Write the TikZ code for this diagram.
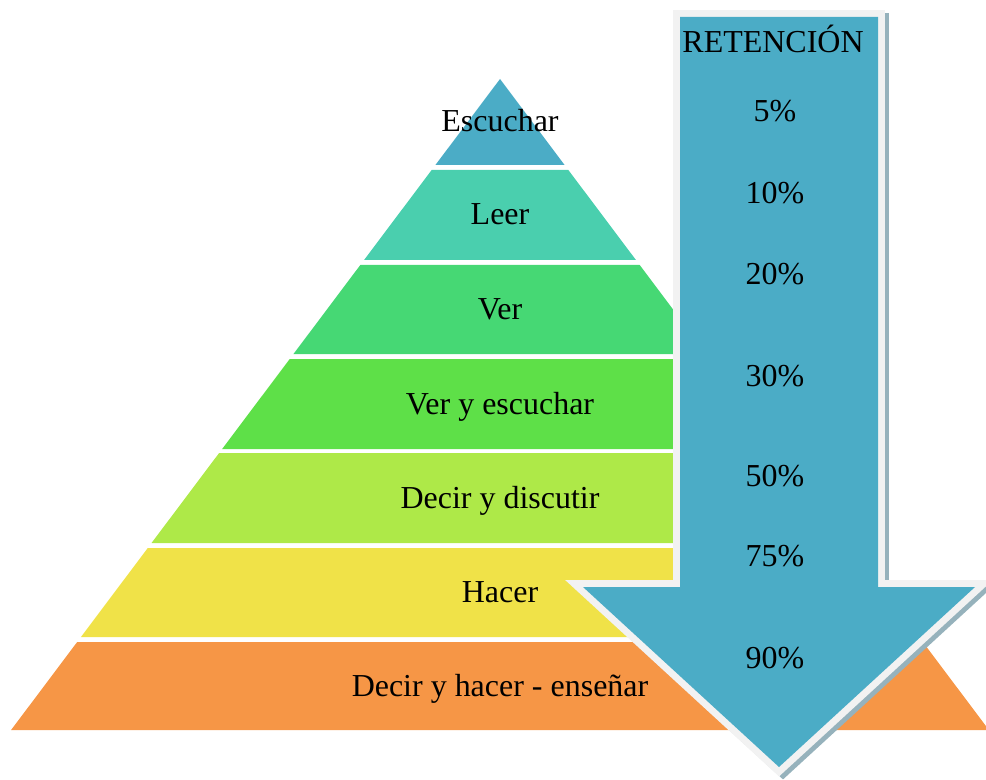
\documentclass[tikz,border=0pt]{standalone}
\usepackage{fontspec}
\setmainfont{Liberation Serif}
\definecolor{escuchar}{RGB}{75,172,198}
\definecolor{leer}{RGB}{74,207,174}
\definecolor{ver}{RGB}{70,216,116}
\definecolor{verescuchar}{RGB}{94,224,72}
\definecolor{decirdiscutir}{RGB}{174,233,72}
\definecolor{hacer}{RGB}{240,226,72}
\definecolor{ensenar}{RGB}{246,150,70}
\definecolor{retencion}{RGB}{75,172,198}
\definecolor{arrowrim}{RGB}{242,242,242}
\definecolor{arrowshade}{RGB}{150,178,188}
\tikzstyle{caption} = [font=\fontsize{18.2}{22}\selectfont, text=black, inner sep=0pt, anchor=base]
\tikzstyle{pct} = [caption]
\tikzstyle{rim} = [draw=arrowrim, fill=arrowrim, line width=7.9pt, line join=miter]
\tikzstyle{shade} = [draw=arrowshade, fill=arrowshade, line width=7.9pt, line join=miter]

\begin{document}
\begin{tikzpicture}[x=0.02cm, y=-0.02cm]
  \useasboundingbox (0,0) rectangle (986,780);

  % pyramid
  \foreach \ytop/\ybot/\col/\nm/\txt in {79/165/escuchar/esc/Escuchar,
      170/260/leer/lee/Leer, 265/354/ver/ver/Ver,
      359/449/verescuchar/vye/Ver y escuchar,
      453/543/decirdiscutir/dyd/Decir y discutir,
      548/637/hacer/hac/Hacer,
      642/730/ensenar/ens/Decir y hacer - enseñar} {
    \fill[\col] ({500-(\ytop-79)*0.751},\ytop) -- ({500+(\ytop-79)*0.751},\ytop)
      -- ({500+(\ybot-79)*0.751},\ybot) -- ({500-(\ybot-79)*0.751},\ybot) -- cycle;
    \node[caption] (\nm) at (500,{(\ytop+\ybot)/2+10}) {\txt};
  }

  % arrow
  \coordinate (a1) at (680,17);
  \coordinate (a2) at (878,17);
  \coordinate (a3) at (878,587);
  \coordinate (a4) at (975,587);
  \coordinate (a5) at (779,767);
  \coordinate (a6) at (583,587);
  \coordinate (a7) at (680,587);
  \path[shade, transform canvas={shift={(4,3)}}] (a1) -- (a2) -- (a3) -- (a4) -- (a5) -- (a6) -- (a7) -- cycle;
  \path[rim] (a1) -- (a2) -- (a3) -- (a4) -- (a5) -- (a6) -- (a7) -- cycle;
  \fill[retencion] (a1) -- (a2) -- (a3) -- (a4) -- (a5) -- (a6) -- (a7) -- cycle;

  \node[caption] (ret) at (773,53) {RETENCIÓN};
  \node[pct] (p5) at (775,122) {5\%};
  \node[pct] (p10) at (775,204) {10\%};
  \node[pct] (p20) at (775,284) {20\%};
  \node[pct] (p30) at (775,386) {30\%};
  \node[pct] (p50) at (775,486) {50\%};
  \node[pct] (p75) at (775,566) {75\%};
  \node[pct] (p90) at (775,668) {90\%};
\end{tikzpicture}
\end{document}
